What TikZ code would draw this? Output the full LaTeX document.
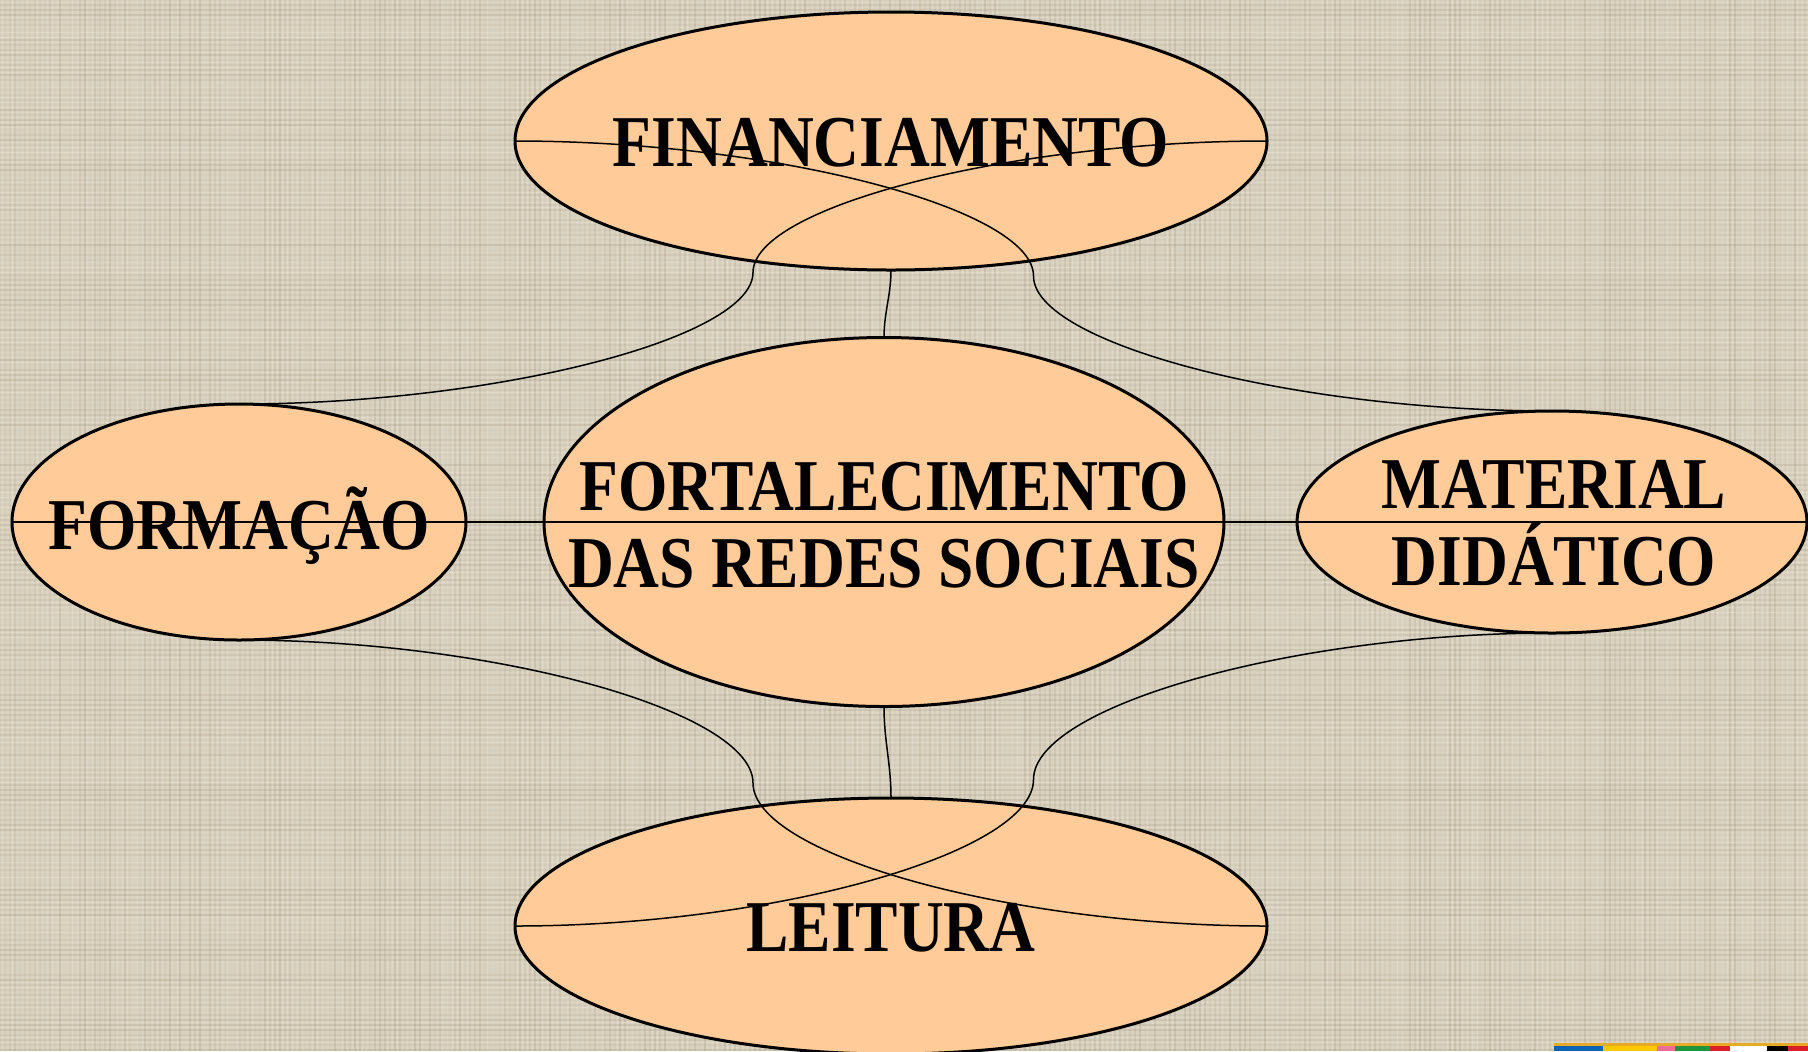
\documentclass[tikz,border=0pt]{standalone}
\usepackage{fontspec}
\usetikzlibrary{shapes.geometric,calc}
\newfontfamily\labfont{Liberation Serif}[FakeStretch=0.87]
\definecolor{bg}{RGB}{218,210,192}
\definecolor{weavedark}{RGB}{165,155,132}
\definecolor{weavelight}{RGB}{240,235,222}
\definecolor{peach}{RGB}{255,204,153}
\definecolor{lblue}{RGB}{10,100,180}
\definecolor{lyellow}{RGB}{255,200,0}
\definecolor{lpink}{RGB}{235,110,150}
\definecolor{lgreen}{RGB}{30,150,60}
\definecolor{lred}{RGB}{220,30,40}
\definecolor{lgold}{RGB}{230,170,40}
\newcommand\curvedlink[2]{%
  \path ($(#1)!0.25!(#2)$) coordinate (q1) ($(#1)!0.5!(#2)$) coordinate (qm) ($(#1)!0.75!(#2)$) coordinate (q3);
  \draw[conn] (#1) .. controls (q1 |- #1) and (qm |- q1) .. (qm) .. controls (qm |- q3) and (q3 |- #2) .. (#2);}
\begin{document}
\begin{tikzpicture}[x=0.5pt,y=-0.5pt,
  oval/.style={ellipse, draw=black, line width=1.5pt, fill=peach, inner sep=0pt, outer sep=0pt},
  lbl/.style={font=\labfont\bfseries\fontsize{36.5pt}{38.5pt}\selectfont, align=center, inner sep=0pt, text=black},
  conn/.style={draw=black, line width=0.75pt}]
\useasboundingbox (0,0) rectangle (1808,1051);
\fill[bg] (0,0) rectangle (1808,1051);
% background weave texture
\pgfmathsetseed{4242}
\foreach \i in {0,5,...,1805}{
  \pgfmathsetmacro{\op}{0.30*rnd}
  \pgfmathsetmacro{\ol}{0.35*rnd}
  \draw[weavedark, line width=0.9pt, opacity=\op] (\i,0) -- (\i,1051);
  \draw[weavelight, line width=0.9pt, opacity=\ol] (\i+2.5,0) -- (\i+2.5,1051);
}
\foreach \j in {0,5,...,1050}{
  \pgfmathsetmacro{\op}{0.30*rnd}
  \pgfmathsetmacro{\ol}{0.35*rnd}
  \draw[weavedark, line width=0.9pt, opacity=\op] (0,\j) -- (1808,\j);
  \draw[weavelight, line width=0.9pt, opacity=\ol] (0,\j+2.5) -- (1808,\j+2.5);
}
% ellipses
\node[oval, minimum width=376pt, minimum height=129pt] (fin) at (891,141) {};
\node[oval, minimum width=340pt, minimum height=184.5pt] (fort) at (884,522) {};
\node[oval, minimum width=227pt, minimum height=118pt] (form) at (239,522) {};
\node[oval, minimum width=255pt, minimum height=111pt] (mat) at (1552,522) {};
\node[oval, minimum width=376pt, minimum height=128pt] (leit) at (891,926) {};
% connectors
\draw[conn] (fin.south) .. controls +(0,25) and +(0,-25) .. (fort.north);
\draw[conn] (fort.south) .. controls +(0,35) and +(0,-35) .. (leit.north);
\draw[conn] (form.west) -- (fort.east);
\draw[conn] (fort.west) -- (mat.east);
\curvedlink{fin.east}{form.north}
\curvedlink{fin.west}{mat.north}
\curvedlink{form.south}{leit.east}
\curvedlink{mat.south}{leit.west}
% labels
\node[lbl] (fin-t) at (891,143) {FINANCIAMENTO};
\node[lbl] (fort-t) at (884,525) {FORTALECIMENTO\\DAS REDES SOCIAIS};
\node[lbl] (form-t) at (239,526) {FORMAÇÃO};
\node[lbl] (mat-t) at (1554,523) {MATERIAL\\DIDÁTICO};
\node[lbl] (leit-t) at (891,928) {LEITURA};
% logo strip at bottom right
\fill[lgold] (1554,1043) rectangle (1808,1046);
\fill[lblue] (1554,1046) rectangle (1603,1051);
\fill[lyellow] (1603,1046) rectangle (1657,1051);
\fill[lpink] (1657,1046) rectangle (1675,1051);
\fill[lgreen] (1675,1046) rectangle (1710,1051);
\fill[lred] (1710,1046) rectangle (1730,1051);
\fill[white] (1730,1046) rectangle (1767,1051);
\fill[black] (1767,1046) rectangle (1788,1051);
\fill[lred] (1788,1046) rectangle (1808,1051);
\end{tikzpicture}
\end{document}
